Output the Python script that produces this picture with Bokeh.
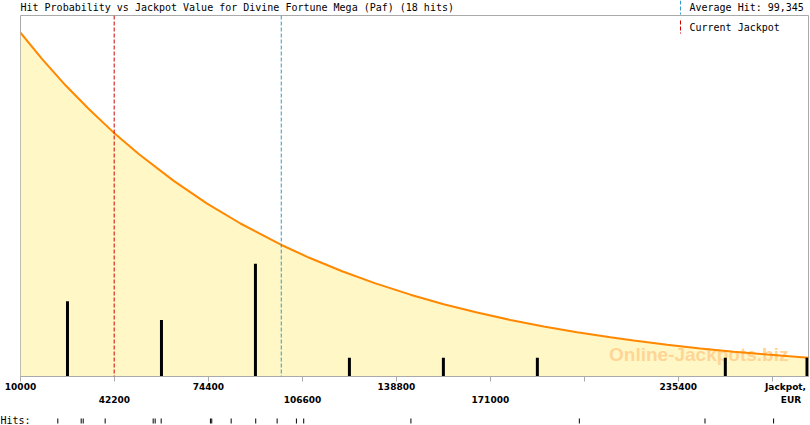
from bokeh.plotting import figure
from bokeh.models import Range1d, LinearAxis, FixedTicker, Span, Label, Arrow
from bokeh.layouts import column
from bokeh.core.properties import value
from bokeh.embed import file_html
from bokeh.resources import INLINE

# ---------------- data ----------------
game = "Divine Fortune Mega (Paf)"
x_start, x_end = 10000, 280000
tick_values = [10000, 42200, 74400, 106600, 138800, 171000, 203200, 235400, 267600]
row1_labels = {10000: "10000", 74400: "74400", 138800: "138800", 235400: "235400"}
row2_labels = {42200: "42200", 106600: "106600", 171000: "171000"}
axis_title = ["Jackpot,", "EUR"]

curve_x = [10000, 17430, 25420, 33400, 41860, 50520, 62510, 73950, 85360, 99060,
           108760, 120200, 131610, 143600, 155000, 166440, 177850, 189260, 200700,
           212100, 220090, 231530, 242930, 254340, 265780, 280000]
curve_p = [1.000, 0.923, 0.847, 0.778, 0.710, 0.647, 0.569, 0.503, 0.445, 0.384,
           0.346, 0.306, 0.271, 0.238, 0.210, 0.186, 0.1645, 0.1455, 0.129,
           0.114, 0.1045, 0.0923, 0.0817, 0.0723, 0.0639, 0.0548]

bin_centers = [26100, 58300, 90500, 122700, 154900, 187100, 219300, 251500, 283700]
bin_counts = [4, 3, 6, 1, 1, 1, 0, 1, 1]

hit_values = [22780, 30790, 31480, 39010, 55460, 56140, 58200, 75080, 75530, 82180,
              90600, 97930, 104540, 107040, 143770, 201480, 244540, 268040]

average_hit = 99345
current_jackpot = 42100

# ---------------- styles ----------------
MONO = "DejaVu Sans Mono"
TICKFONT = "DejaVu Sans"
GRAY = "#aaaaaa"
ORANGE = "#ff8800"
FILL = "#fff8c6"
RED = "#cc0000"
BLUE = "#3399cc"
W = 810
HEAD_H, MAIN_H, RUG_H = 15, 392, 18
FRAME_L, FRAME_R = 20, 2
u = (x_end - x_start) / (W - FRAME_L - FRAME_R)   # data units per pixel


def bare(fig):
    fig.grid.visible = False
    fig.outline_line_color = None
    fig.background_fill_color = "white"
    fig.border_fill_color = "white"


def free_frame(fig):
    try:
        fig.frame_align = False
        return True
    except (AttributeError, ValueError):
        return False


# ---------------- header row: title + first legend entry ----------------
head = figure(width=W, height=HEAD_H, x_range=Range1d(0, W), y_range=Range1d(0, HEAD_H),
              output_backend="svg", toolbar_location=None,
              x_axis_location=None, y_axis_location=None, min_border=0)
bare(head)
free_frame(head)
head.add_layout(Label(x=20, y=7, x_units="canvas", y_units="canvas",
                      text=f"Hit Probability vs Jackpot Value for {game} ({len(hit_values)} hits)",
                      text_baseline="middle", text_font=MONO, text_font_size="10px",
                      text_color="black"))
head.add_layout(Arrow(end=None, x_start=680, y_start=0, x_end=680, y_end=14,
                      start_units="canvas", end_units="canvas",
                      line_color=BLUE, line_dash="4 2", line_width=1))
head.add_layout(Label(x=689, y=7, x_units="canvas", y_units="canvas",
                      text=f"Average Hit: {average_hit:,}", text_baseline="middle",
                      text_font=MONO, text_font_size="10px", text_color="black"))

# ---------------- main chart ----------------
p = figure(width=W, height=MAIN_H, x_range=Range1d(x_start, x_end), y_range=Range1d(0, 1.05),
           output_backend="svg", toolbar_location=None, y_axis_location=None,
           min_border_left=FRAME_L, min_border_right=FRAME_R, min_border_top=0,
           min_border_bottom=30)
p.grid.visible = False
p.outline_line_color = GRAY
p.background_fill_color = "white"
p.border_fill_color = "white"


def style_labels(ax, standoff):
    ax.minor_tick_line_color = None
    ax.major_label_text_font = TICKFONT
    ax.major_label_text_font_size = "9px"
    ax.major_label_text_font_style = "bold"
    ax.major_label_text_color = "black"
    ax.major_label_standoff = standoff


# axis 0: tick marks only
xa = p.xaxis[0]
xa.ticker = FixedTicker(ticks=tick_values)
xa.major_label_overrides = {v: "" for v in tick_values}
xa.axis_line_color = GRAY
xa.major_tick_line_color = GRAY
xa.major_tick_out = 5
xa.major_tick_in = 0
xa.minor_tick_line_color = None
xa.major_label_text_font_size = "0px"
xa.major_label_standoff = 0

# axis 1: first label row (+ "Jackpot,")
jp_x = x_end - 23 * u
row1 = dict(row1_labels)
row1[jp_x] = axis_title[0]
xa1 = LinearAxis(ticker=FixedTicker(ticks=list(row1)), major_label_overrides=row1)
xa1.axis_line_color = None
xa1.major_tick_line_color = None
xa1.major_tick_out = 0
xa1.major_tick_in = 0
style_labels(xa1, 0)
p.add_layout(xa1, "below")

# axis 2: second label row (+ "EUR")
eur_x = x_end - 17.5 * u
row2 = dict(row2_labels)
row2[eur_x] = axis_title[1]
xa2 = LinearAxis(ticker=FixedTicker(ticks=list(row2)), major_label_overrides=row2)
xa2.axis_line_color = None
xa2.major_tick_line_color = None
xa2.major_tick_out = 0
xa2.major_tick_in = 0
style_labels(xa2, 0)
p.add_layout(xa2, "below")

# probability curve with fill
p.varea(x=curve_x, y1=0, y2=curve_p, fill_color=FILL)

# watermark
p.text(x=[x_end], y=[0], text=["Online-Jackpots.biz"], text_align="right",
       text_baseline="alphabetic", x_offset=-20, y_offset=-22,
       text_font=value("Liberation Sans"), text_font_style="bold",
       text_font_size="19px", text_color="#ffd596")

p.line(x=curve_x, y=curve_p, line_color=ORANGE, line_width=2)

# hit histogram bars
bar_half = 1.5 * u
bars_x = [min(c, x_end - bar_half) for c, n in zip(bin_centers, bin_counts) if n > 0]
bars_n = [n for n in bin_counts if n > 0]
p.extra_y_ranges = {"hits": Range1d(0, 19.2)}
p.segment(x0=bars_x, y0=0, x1=bars_x, y1=bars_n, y_range_name="hits",
          line_color="black", line_width=3, line_cap="butt")

# reference lines
p.add_layout(Span(location=current_jackpot, dimension="height", line_color=RED,
                  line_dash="4 2", line_width=1))
p.add_layout(Span(location=average_hit, dimension="height", line_color=BLUE,
                  line_dash="4 2", line_width=1))

# second legend entry
p.add_layout(Arrow(end=None, x_start=680, y_start=5, x_end=680, y_end=18,
                   start_units="canvas", end_units="canvas",
                   line_color=RED, line_dash="4 2", line_width=1))
p.add_layout(Label(x=689, y=12, x_units="canvas", y_units="canvas",
                   text="Current Jackpot", text_baseline="middle",
                   text_font=MONO, text_font_size="10px", text_color="black"))

# ---------------- rug of individual hits ----------------
r = figure(width=W, height=RUG_H, y_range=Range1d(0, RUG_H), output_backend="svg",
           toolbar_location=None, x_axis_location=None, y_axis_location=None,
           min_border_left=0, min_border_right=FRAME_R, min_border_top=0, min_border_bottom=0)
bare(r)
if free_frame(r):
    r.x_range = Range1d(x_start - FRAME_L * u, x_end)
else:
    r.x_range = p.x_range
    r.min_border_left = FRAME_L
r.segment(x0=hit_values, y0=2, x1=hit_values, y1=7, line_color="black", line_width=1)
r.add_layout(Label(x=0, y=RUG_H - 5.5, x_units="canvas", y_units="canvas", text="Hits:",
                   text_baseline="middle", text_font=MONO, text_font_size="10px",
                   text_color="black"))

layout = column(head, p, r, spacing=0,
                styles={"position": "absolute", "left": "0px", "top": "0px"})

open("out.html", "w").write(file_html(layout, INLINE))
